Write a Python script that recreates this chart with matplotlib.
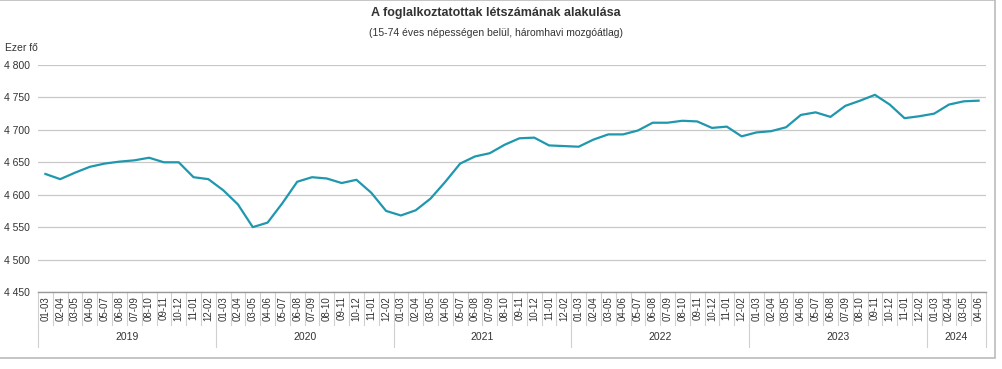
import numpy as np
import matplotlib.pyplot as plt
from matplotlib.patches import Rectangle
from matplotlib.lines import Line2D

plt.rcParams['font.family'] = ['Liberation Sans', 'DejaVu Sans']

# Data (ezer fő, háromhavi mozgóátlag)
years = ['2019', '2020', '2021', '2022', '2023', '2024']
periods = ['01-03', '02-04', '03-05', '04-06', '05-07', '06-08',
           '07-09', '08-10', '09-11', '10-12', '11-01', '12-02']
periods_2024 = ['01-03', '02-04', '03-05', '04-06']
values = [4632, 4624, 4634, 4643, 4648, 4651, 4653, 4657, 4650, 4650, 4627, 4624,
          4607, 4585, 4550, 4557, 4587, 4620, 4627, 4625, 4618, 4623, 4603, 4575,
          4568, 4576, 4594, 4620, 4648, 4659, 4664, 4677, 4687, 4688, 4676, 4675,
          4674, 4685, 4693, 4693, 4699, 4711, 4711, 4714, 4713, 4703, 4705, 4690,
          4696, 4698, 4704, 4723, 4727, 4720, 4737, 4745, 4754, 4739, 4718, 4721,
          4725, 4739, 4744, 4745]

labels = periods * 5 + periods_2024
year_counts = [12, 12, 12, 12, 12, 4]

W, H = 1002, 369
fig = plt.figure(figsize=(W / 100, H / 100), dpi=100)
ax = fig.add_axes([38 / W, 1 - 292 / H, 948 / W, 227 / H])

n = len(values)
x = np.arange(n)
ax.plot(x, values, color='#1f97ad', lw=1.6, solid_joinstyle='round')
ax.set_xlim(-0.5, n - 0.5)
ax.set_ylim(4450, 4800)

yt = np.arange(4450, 4801, 50)
ax.set_yticks(yt)
ax.set_yticklabels([f'{v:,}'.replace(',', ' ') for v in yt], fontsize=7.5, color='#333333')
ax.tick_params(axis='y', length=0, pad=6)
ax.grid(axis='y', color='#c8c8c8', lw=0.9)
ax.set_axisbelow(True)
for s in ['left', 'right', 'top']:
    ax.spines[s].set_visible(False)
ax.spines['bottom'].set_color('#999999')
ax.spines['bottom'].set_linewidth(1.0)

ax.set_xticks(x)
ax.set_xticklabels(labels, rotation=90, fontsize=7, color='#333333', va='top')
ax.tick_params(axis='x', length=0, pad=3)

# category cell separators and year groups
bt = ax.get_xaxis_transform()
y_cell = -(325 - 292) / 227
y_year = -(347 - 292) / 227
for i in range(n + 1):
    ax.add_line(Line2D([i - 0.5, i - 0.5], [0, y_cell], transform=bt,
                       color='#d0d0d0', lw=0.8, clip_on=False))
start = 0
bounds = [0]
for yr, c in zip(years, year_counts):
    ax.text(start + c / 2 - 0.5, -(337 - 292) / 227, yr, transform=bt,
            ha='center', va='center', fontsize=7.5, color='#333333')
    start += c
    bounds.append(start)
for b in bounds:
    ax.add_line(Line2D([b - 0.5, b - 0.5], [y_cell, y_year], transform=bt,
                       color='#d0d0d0', lw=0.8, clip_on=False))

# titles
fig.text(496 / W, 1 - 13 / H, 'A foglalkoztatottak létszámának alakulása',
         ha='center', va='center', fontsize=9, fontweight='bold', color='#333333')
fig.text(496 / W, 1 - 33 / H, '(15-74 éves népességen belül, háromhavi mozgóátlag)',
         ha='center', va='center', fontsize=7.5, color='#333333')
fig.text(5 / W, 1 - 48 / H, 'Ezer fő', ha='left', va='center', fontsize=7.5,
         color='#333333')

# panel frame
fig.patches.append(Rectangle((-5 / W, 1 - 358 / H), 1000 / W, 358 / H,
                             transform=fig.transFigure, fill=False,
                             edgecolor='#bbbbbb', lw=1.2))

fig.savefig('out.png', dpi=100)
